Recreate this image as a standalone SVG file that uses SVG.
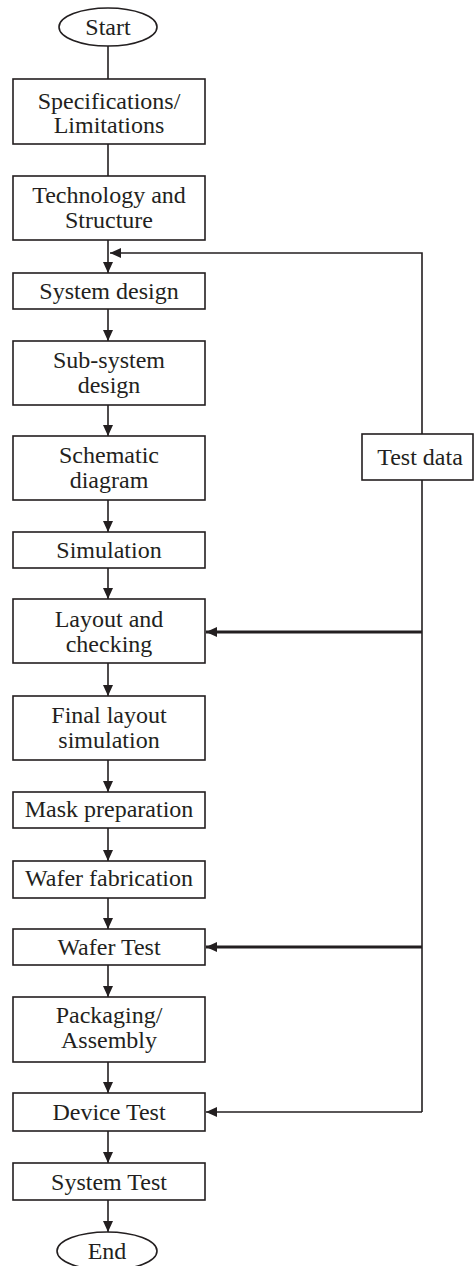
<svg xmlns="http://www.w3.org/2000/svg" width="474" height="1266" viewBox="0 0 474 1266">
<style>
.box{fill:#fff;stroke:#231f20;stroke-width:1.6}
.t{font-family:"Liberation Serif","Times New Roman",serif;font-size:24px;fill:#231f20;text-anchor:middle}
.c{fill:none;stroke:#231f20;stroke-width:1.6}
.thick{stroke-width:3}
</style>
<defs>
<marker id="ah" markerUnits="userSpaceOnUse" markerWidth="11" markerHeight="10" refX="11" refY="5" orient="auto">
<path d="M0,0 L11,5 L0,10 z" fill="#231f20"/>
</marker>
</defs>
<rect width="474" height="1266" fill="#fff"/>
<g id="connectors">
<line class="c" x1="108" y1="46" x2="108" y2="79"/>
<line class="c" x1="108" y1="144" x2="108" y2="176"/>
<line class="c" x1="108" y1="240" x2="108" y2="273" marker-end="url(#ah)"/>
<line class="c" x1="108" y1="309" x2="108" y2="341" marker-end="url(#ah)"/>
<line class="c" x1="108" y1="405" x2="108" y2="436" marker-end="url(#ah)"/>
<line class="c" x1="108" y1="500" x2="108" y2="532" marker-end="url(#ah)"/>
<line class="c" x1="108" y1="568" x2="108" y2="599" marker-end="url(#ah)"/>
<line class="c" x1="108" y1="663" x2="108" y2="696" marker-end="url(#ah)"/>
<line class="c" x1="108" y1="760" x2="108" y2="792" marker-end="url(#ah)"/>
<line class="c" x1="108" y1="828" x2="108" y2="861" marker-end="url(#ah)"/>
<line class="c" x1="108" y1="898" x2="108" y2="929" marker-end="url(#ah)"/>
<line class="c" x1="108" y1="965" x2="108" y2="997" marker-end="url(#ah)"/>
<line class="c" x1="108" y1="1062" x2="108" y2="1093" marker-end="url(#ah)"/>
<line class="c" x1="108" y1="1131" x2="108" y2="1163" marker-end="url(#ah)"/>
<line class="c" x1="108" y1="1200" x2="108" y2="1232" marker-end="url(#ah)"/>
<polyline class="c" points="422,434 422,253 110,253" marker-end="url(#ah)"/>
<line class="c" x1="422" y1="480" x2="422" y2="1112"/>
<line class="c thick" x1="422" y1="632" x2="206" y2="632" marker-end="url(#ah)"/>
<line class="c thick" x1="422" y1="947" x2="206" y2="947" marker-end="url(#ah)"/>
<polyline class="c" points="422,1112 206,1112" marker-end="url(#ah)"/>
</g>
<g id="start"><ellipse class="box" cx="108" cy="27" rx="49" ry="19"/><text class="t" x="108" y="35">Start</text></g>
<g id="spec"><rect class="box" x="13" y="79" width="192" height="65"/><text class="t" x="109" y="109">Specifications/</text><text class="t" x="109" y="133">Limitations</text></g>
<g id="tech"><rect class="box" x="13" y="176" width="192" height="64"/><text class="t" x="109" y="203">Technology and</text><text class="t" x="109" y="228">Structure</text></g>
<g id="sysdesign"><rect class="box" x="13" y="273" width="192" height="36"/><text class="t" x="109" y="299">System design</text></g>
<g id="subsys"><rect class="box" x="13" y="341" width="192" height="64"/><text class="t" x="109" y="368">Sub-system</text><text class="t" x="109" y="393">design</text></g>
<g id="schematic"><rect class="box" x="13" y="436" width="192" height="64"/><text class="t" x="109" y="463">Schematic</text><text class="t" x="109" y="488">diagram</text></g>
<g id="simulation"><rect class="box" x="13" y="532" width="192" height="36"/><text class="t" x="109" y="558">Simulation</text></g>
<g id="layout"><rect class="box" x="13" y="599" width="192" height="64"/><text class="t" x="109" y="627">Layout and</text><text class="t" x="109" y="652">checking</text></g>
<g id="finallayout"><rect class="box" x="13" y="696" width="192" height="64"/><text class="t" x="109" y="723">Final layout</text><text class="t" x="109" y="748">simulation</text></g>
<g id="mask"><rect class="box" x="13" y="792" width="192" height="36"/><text class="t" x="109" y="817">Mask preparation</text></g>
<g id="waferfab"><rect class="box" x="13" y="861" width="192" height="37"/><text class="t" x="109" y="886">Wafer fabrication</text></g>
<g id="wafertest"><rect class="box" x="13" y="929" width="192" height="36"/><text class="t" x="109" y="955">Wafer Test</text></g>
<g id="packaging"><rect class="box" x="13" y="997" width="192" height="65"/><text class="t" x="109" y="1023">Packaging/</text><text class="t" x="109" y="1048">Assembly</text></g>
<g id="devicetest"><rect class="box" x="13" y="1093" width="192" height="38"/><text class="t" x="109" y="1120">Device Test</text></g>
<g id="systemtest"><rect class="box" x="13" y="1163" width="192" height="37"/><text class="t" x="109" y="1190">System Test</text></g>
<g id="end"><ellipse class="box" cx="107" cy="1251" rx="50" ry="19"/><text class="t" x="107" y="1259">End</text></g>
<g id="testdata"><rect class="box" x="362" y="434" width="111" height="46"/><text class="t" x="420" y="465">Test data</text></g>
</svg>
